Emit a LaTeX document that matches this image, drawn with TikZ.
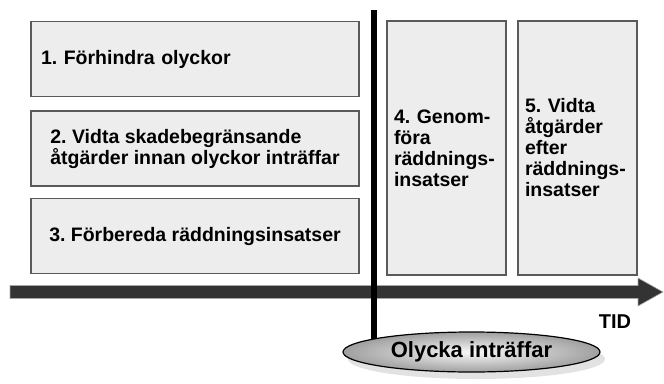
\documentclass[tikz,border=0pt]{standalone}
\usepackage{fontspec}
\setmainfont{Liberation Sans}
\frenchspacing
\usetikzlibrary{shapes.geometric, shadows}
\definecolor{boxfill}{HTML}{ECEDEC}
\definecolor{boxline}{HTML}{5A5A5A}
\definecolor{axisfill}{HTML}{333333}
\tikzstyle{stage} = [rectangle, draw=boxline, line width=1.4pt, fill=boxfill, inner sep=0pt, inner xsep=10pt, align=left, font=\bfseries\fontsize{19.5}{21}\selectfont]
\tikzstyle{wide} = [stage, minimum width=328pt, minimum height=75pt]
\tikzstyle{tall} = [stage, inner xsep=7pt, minimum width=119pt, minimum height=254pt, text width=105pt]
\tikzstyle{event} = [ellipse, draw=black, line width=1.2pt, minimum width=257pt, minimum height=40pt, inner sep=0pt, shading=radial, inner color=white!95!gray, outer color=gray!75, drop shadow={shadow xshift=5pt, shadow yshift=-7pt, fill=gray!45}, font=\bfseries\fontsize{22}{24}\selectfont]
\tikzstyle{axis} = [fill=axisfill, draw=gray!70, line width=0.6pt]
\tikzstyle{eventline} = [line width=6pt]

\begin{document}
\begin{tikzpicture}[x=1pt, y=-1pt]
    \useasboundingbox (0,0) rectangle (664,383);
    \node [wide, text width=308pt] at (195,59) (prevent) {1. Förhindra olyckor};
    \node [wide] at (195,148.5) (limit) {2. Vidta skadebegränsande\\åtgärder innan olyckor inträffar};
    \node [wide] at (195,236) (prepare) {3. Förbereda räddningsinsatser};
    \node [tall] at (446.5,148) (rescue) {4. Genom-\\föra\\räddnings-\\insatser};
    \node [tall] at (577.5,148) (after) {5. Vidta\\åtgärder\\efter\\räddnings-\\insatser};
    \draw [axis] (10,285.5) -- (638,285.5) -- (638,278) -- (663,292) -- (638,306) -- (638,298.5) -- (10,298.5) -- cycle;
    \node [font=\bfseries\fontsize{20}{22}\selectfont] at (615,322) (tid) {TID};
    \coordinate (linetop) at (373.5,10);
    \coordinate (linebottom) at (373.5,352);
    \draw [eventline] (linetop) -- (linebottom);
    \node [event] at (471.5,352) (olycka) {Olycka inträffar};
\end{tikzpicture}
\end{document}
